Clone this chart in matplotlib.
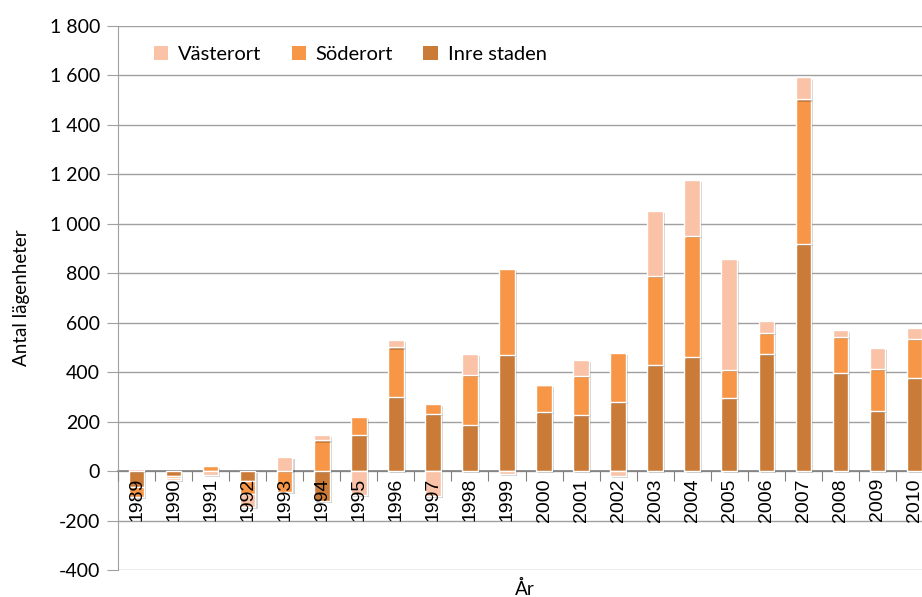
import numpy as np
import matplotlib
matplotlib.use("Agg")
import matplotlib.pyplot as plt
import matplotlib.patheffects as pe
from matplotlib.ticker import FuncFormatter, FixedLocator

years = [str(y) for y in range(1989, 2011)]
inre_staden = [-65, -18, 0, -42, 0, -120, 146, 300, 230, 186, 468, 240, 227, 280, 430, 462, 296, 472, 917, 396, 245, 376]
soderort = [-40, -10, 20, -52, -85, 124, 74, 200, 40, 202, 350, 110, 158, 198, 360, 490, 114, 85, 586, 147, 168, 157]
vasterort = [8, -8, -15, -52, 56, 23, -95, 30, -100, 85, -10, 0, 65, -18, 262, 226, 448, 50, 89, 26, 86, 45]

series = [("Inre staden", inre_staden, "#CB7B38"),
          ("Söderort", soderort, "#F79646"),
          ("Västerort", vasterort, "#FAC2A6")]

fig = plt.figure(figsize=(9.22, 5.97), dpi=100)
ax = fig.add_axes([118/922, 27/597, 815/922, 544/597])

x = np.arange(len(years))
pos_base = np.zeros(len(years))
neg_base = np.zeros(len(years))
handles = {}
shadow = [pe.SimplePatchShadow(offset=(1.5, -1.5), shadow_rgbFace="#000000", alpha=0.18), pe.Normal()]
for name, vals, col in series:
    v = np.array(vals, dtype=float)
    bottom = np.where(v >= 0, pos_base, neg_base)
    b = ax.bar(x, v, width=0.42, bottom=bottom, color=col, edgecolor="white",
               linewidth=1.0, zorder=3, label=name)
    for p in b.patches:
        p.set_path_effects(shadow)
    handles[name] = b
    pos_base += np.where(v > 0, v, 0)
    neg_base += np.where(v < 0, v, 0)

ax.set_xlim(-0.5, len(years) - 0.5)
ax.set_ylim(-400, 1800)
ax.set_yticks(np.arange(-400, 1801, 200))
ax.yaxis.set_major_formatter(FuncFormatter(lambda v, p: f"{int(v):,}".replace(",", " ")))
ax.grid(axis="y", color="#a0a0a0", linewidth=1.0, zorder=0)
ax.set_axisbelow(True)

for s in ["top", "right"]:
    ax.spines[s].set_visible(False)
ax.spines["left"].set_color("#a0a0a0")
ax.spines["bottom"].set_position(("data", 0))
ax.spines["bottom"].set_color("#808080")
ax.spines["bottom"].set_linewidth(1.2)
ax.spines["bottom"].set_zorder(2)

ax.tick_params(axis="y", length=8, color="#a0a0a0", labelsize=14, pad=5)
for t in ax.get_yticklabels():
    t.set_family("Lato")

ax.xaxis.set_major_locator(FixedLocator(np.arange(-0.5, len(years), 1.0)))
ax.xaxis.set_major_formatter(FuncFormatter(lambda v, p: ""))
ax.set_xticks(x, labels=years, minor=True)
ax.tick_params(axis="x", which="major", length=7, color="#808080")
ax.tick_params(axis="x", which="minor", length=0, labelsize=14, pad=5, labelrotation=90)
for t in ax.get_xticklabels(minor=True):
    t.set_family("Liberation Sans")
ax.xaxis.set_zorder(5)

ax.set_ylabel("Antal lägenheter", fontsize=13.5, family="Lato", labelpad=14)
fig.text(525/922, 1 - 589/597, "År", ha="center", va="center", fontsize=13.5, family="Lato")

leg = ax.legend([handles["Västerort"], handles["Söderort"], handles["Inre staden"]],
                ["Västerort", "Söderort", "Inre staden"],
                loc="upper left", bbox_to_anchor=(0.022, 0.997), ncol=3, frameon=False,
                prop={"family": "Lato", "size": 14.5}, handlelength=0.7, handleheight=0.7,
                columnspacing=1.5, handletextpad=0.5)
for h in leg.legend_handles:
    h.set_path_effects([])
    h.set_edgecolor("none")

fig.savefig("out.png", dpi=100)
